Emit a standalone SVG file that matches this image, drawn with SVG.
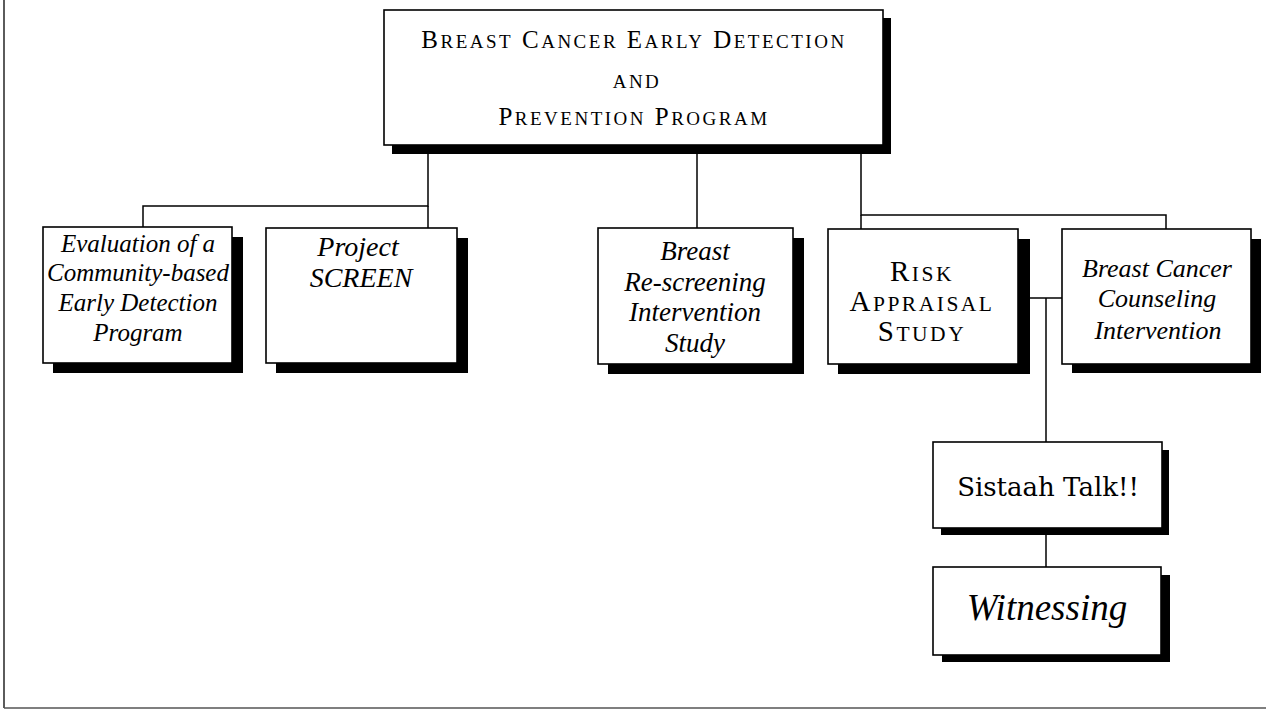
<svg xmlns="http://www.w3.org/2000/svg" width="1270" height="712" viewBox="0 0 1270 712">
<style>
.sh{fill:#000}
.bx{fill:#fff;stroke:#000;stroke-width:1.6}
.ln{stroke:#000;stroke-width:1.5;fill:none}
.sc{font-family:"Liberation Serif",serif;fill:#000;text-anchor:middle}
.it{font-family:"Liberation Serif",serif;font-style:italic;fill:#000;text-anchor:middle}
.cm{font-family:"DejaVu Serif","Liberation Serif",serif;fill:#000;text-anchor:middle}
</style>
<rect width="1270" height="712" fill="#fff"/>
<g id="frame">
<line x1="4" y1="0" x2="4" y2="708" stroke="#333" stroke-width="1.6"/>
<line x1="4" y1="708" x2="1266" y2="708" stroke="#555" stroke-width="1.6"/>
</g>
<g id="connectors" class="ln">
<polyline points="428,153 428,206 143,206 143,227"/>
<line x1="428" y1="206" x2="428" y2="228"/>
<line x1="697" y1="153" x2="697" y2="228"/>
<polyline points="861,153 861,215 1166,215 1166,229"/>
<line x1="861" y1="215" x2="861" y2="229"/>
<line x1="1030" y1="298" x2="1062" y2="298"/>
<line x1="1046" y1="298" x2="1046" y2="442"/>
<line x1="1046" y1="535" x2="1046" y2="567"/>
</g>
<g id="top">
<rect class="sh" x="392" y="18" width="499" height="136"/>
<rect class="bx" x="384" y="10" width="499" height="135"/>
<text class="sc" x="634" y="48" font-size="25" letter-spacing="2.5">B<tspan font-size="19">REAST</tspan> C<tspan font-size="19">ANCER</tspan> E<tspan font-size="19">ARLY</tspan> D<tspan font-size="19">ETECTION</tspan></text>
<text class="sc" x="637" y="88" font-size="19" letter-spacing="2.5">AND</text>
<text class="sc" x="634" y="125" font-size="25" letter-spacing="2.5">P<tspan font-size="19">REVENTION</tspan> P<tspan font-size="19">ROGRAM</tspan></text>
</g>
<g id="evaluation">
<rect class="sh" x="53" y="237" width="190" height="136"/>
<rect class="bx" x="43" y="227" width="189" height="136"/>
<text class="it" font-size="25"><tspan x="138" y="252">Evaluation of a</tspan><tspan x="138" y="281">Community-based</tspan><tspan x="138" y="311">Early Detection</tspan><tspan x="138" y="341">Program</tspan></text>
</g>
<g id="screen">
<rect class="sh" x="276" y="238" width="192" height="135"/>
<rect class="bx" x="266" y="228" width="191" height="135"/>
<text class="it" font-size="28"><tspan x="358" y="256">Project</tspan><tspan x="361" y="287">SCREEN</tspan></text>
</g>
<g id="rescreening">
<rect class="sh" x="608" y="238" width="196" height="136"/>
<rect class="bx" x="598" y="228" width="195" height="136"/>
<text class="it" font-size="27"><tspan x="695" y="260">Breast</tspan><tspan x="695" y="291">Re-screening</tspan><tspan x="695" y="321">Intervention</tspan><tspan x="695" y="352">Study</tspan></text>
</g>
<g id="risk">
<rect class="sh" x="838" y="239" width="192" height="135"/>
<rect class="bx" x="828" y="229" width="190" height="135"/>
<text class="sc" font-size="29" letter-spacing="2.5"><tspan x="922" y="281">R<tspan font-size="21.5">ISK</tspan></tspan><tspan x="922" y="311">A<tspan font-size="21.5">PPRAISAL</tspan></tspan><tspan x="922" y="341">S<tspan font-size="21.5">TUDY</tspan></tspan></text>
</g>
<g id="counseling">
<rect class="sh" x="1072" y="239" width="189" height="134"/>
<rect class="bx" x="1062" y="229" width="189" height="135"/>
<text class="it" font-size="26"><tspan x="1157" y="277">Breast Cancer</tspan><tspan x="1157" y="307">Counseling</tspan><tspan x="1158" y="339">Intervention</tspan></text>
</g>
<g id="sistaah">
<rect class="sh" x="941" y="450" width="228" height="85"/>
<rect class="bx" x="933" y="442" width="229" height="86"/>
<text class="cm" x="1048" y="496" font-size="26">Sistaah Talk!!</text>
</g>
<g id="witnessing">
<rect class="sh" x="942" y="575" width="228" height="87"/>
<rect class="bx" x="933" y="567" width="228" height="88"/>
<text class="it" x="1047" y="620" font-size="37">Witnessing</text>
</g>
</svg>
